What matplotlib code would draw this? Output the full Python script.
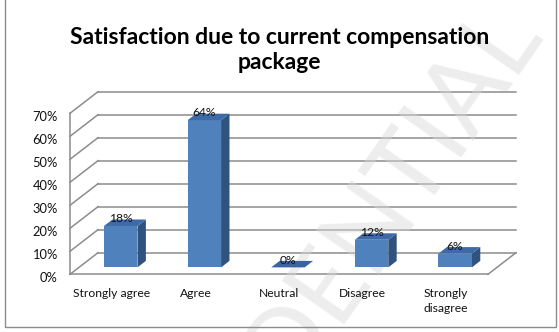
import matplotlib
matplotlib.use("Agg")
import matplotlib.pyplot as plt
from matplotlib.patches import Polygon
import numpy as np

categories = ["Strongly agree", "Agree", "Neutral", "Disagree", "Strongly\ndisagree"]
values = [18, 64, 0, 12, 6]
value_labels = ["18%", "64%", "0%", "12%", "6%"]
yticks = [0, 10, 20, 30, 40, 50, 60, 70]
ytick_labels = ["0%", "10%", "20%", "30%", "40%", "50%", "60%", "70%"]
title = "Satisfaction due to current compensation\npackage"

W, H, DPI = 559, 332, 100
fig = plt.figure(figsize=(W / DPI, H / DPI), dpi=DPI)
FONT = ["Lato", "DejaVu Sans"]
FS = 8.7

# 3-D depth offset in data units
DX, DY = 0.335, 9.4
x0, x1 = -0.5, len(categories) - 0.5
ymax = yticks[-1]

# axes placement (pixel based)
left_px, right_px = 70, 70 + (x1 - x0 + DX) * 83.6
bot_px, top_px = 274.3, 274.3 - (ymax + DY) * 2.3
ax = fig.add_axes([left_px / W, 1 - bot_px / H, (right_px - left_px) / W, (bot_px - top_px) / H])
ax.set_xlim(x0, x1 + DX)
ax.set_ylim(0, ymax + DY)
ax.axis("off")

gc = "#8c8c8c"
lw = 1.1
# back-wall gridlines + left-wall diagonals
for v in yticks:
    ax.plot([x0 + DX, x1 + DX], [v + DY, v + DY], color=gc, lw=lw, clip_on=False, zorder=1)
    ax.plot([x0, x0 + DX], [v, v + DY], color=gc, lw=lw, clip_on=False, zorder=1)
# front-left vertical edge
ax.plot([x0, x0], [0, ymax], color=gc, lw=lw, clip_on=False, zorder=1)
# floor front and right edges
ax.plot([x0, x1], [0, 0], color=gc, lw=lw, clip_on=False, zorder=1)
ax.plot([x1, x1 + DX], [0, DY], color=gc, lw=lw, clip_on=False, zorder=1)

# bars
bw = 0.4
d0, d1 = 0.32, 0.62
c_front, c_top, c_side = "#4f81bd", "#3e6ba8", "#30527f"
for i, v in enumerate(values):
    fx0 = i - bw / 2 + d0 * DX
    fx1 = i + bw / 2 + d0 * DX
    fy0 = d0 * DY
    ddx = (d1 - d0) * DX
    ddy = (d1 - d0) * DY
    top = [(fx0, fy0 + v), (fx1, fy0 + v), (fx1 + ddx, fy0 + v + ddy), (fx0 + ddx, fy0 + v + ddy)]
    side = [(fx1, fy0), (fx1 + ddx, fy0 + ddy), (fx1 + ddx, fy0 + v + ddy), (fx1, fy0 + v)]
    front = [(fx0, fy0), (fx1, fy0), (fx1, fy0 + v), (fx0, fy0 + v)]
    if v > 0:
        ax.add_patch(Polygon(side, closed=True, fc=c_side, ec="none", zorder=3, clip_on=False))
        ax.add_patch(Polygon(front, closed=True, fc=c_front, ec="none", zorder=3, clip_on=False))
        ax.add_patch(Polygon(top, closed=True, fc=c_top, ec="none", zorder=3, clip_on=False))
    else:
        ax.add_patch(Polygon(top, closed=True, fc="#3a63a0", ec="none", zorder=3, clip_on=False))
    ax.text((fx0 + fx1) / 2, fy0 + v + 0.8, value_labels[i], ha="center", va="bottom",
            fontsize=FS, family=FONT, color="#111111", zorder=5)

# y tick labels
for v, lab in zip(yticks, ytick_labels):
    ax.annotate(lab, (x0, v), xytext=(-12, -4), textcoords="offset pixels",
                ha="right", va="center", fontsize=9.3, family=FONT, color="#111111")

# category labels
for i, lab in enumerate(categories):
    ax.annotate(lab, (i, 0), xytext=(0, -14), textcoords="offset pixels",
                ha="center", va="top", fontsize=FS, family=FONT, color="#111111",
                linespacing=1.45)

# title
fig.text(0.5, 1 - 50 / H, title, ha="center", va="center", fontsize=16.5,
         fontweight="bold", family=FONT, color="#000000", linespacing=1.2)

# border
fig.add_artist(plt.Rectangle((5 / W, 5 / H), 551 / W, 330 / H, transform=fig.transFigure,
                             fill=False, ec="#8c8c8c", lw=1.0))

# watermark (behind bars, above gridlines)
wm = ax.text(300 / W, 1 - 330 / H, "CONFIDENTIAL", transform=fig.transFigure, rotation=55,
             rotation_mode="anchor", ha="center", va="center", fontsize=76, family=FONT,
             color="#d8d8d8", alpha=0.45, zorder=2, clip_on=False)

fig.savefig("out.png", dpi=DPI, facecolor="white")
